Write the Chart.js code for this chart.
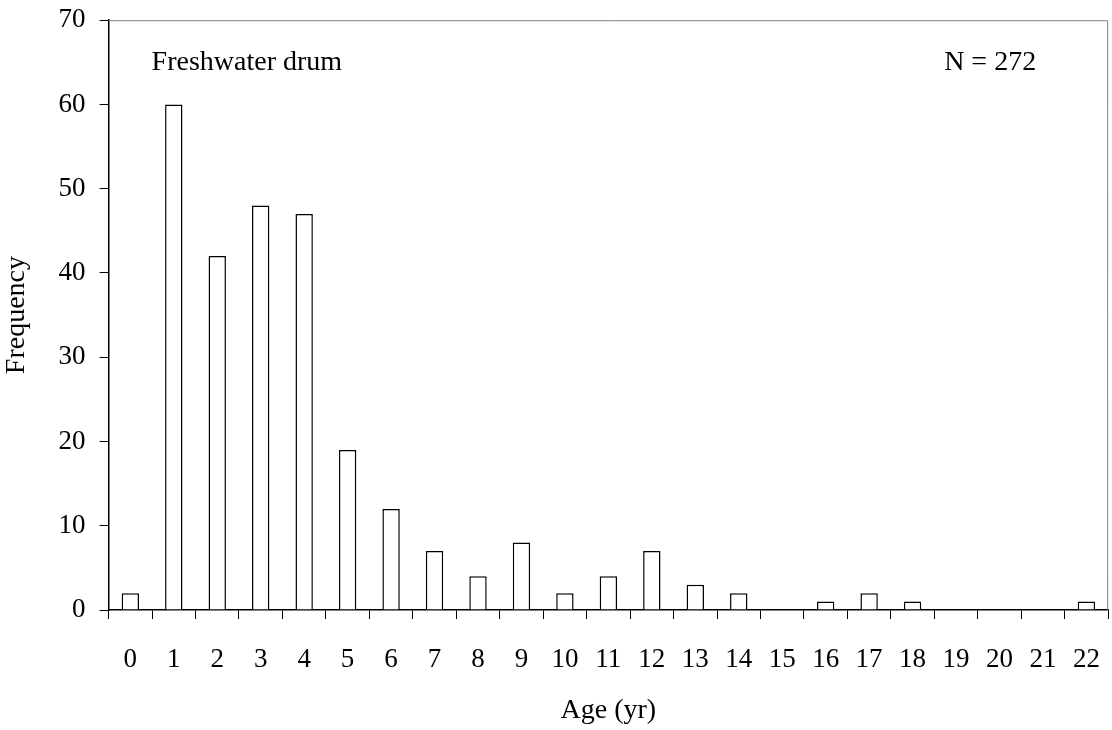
<!DOCTYPE html>
<html>
<head>
<meta charset="utf-8">
<script src="https://cdn.jsdelivr.net/npm/chart.js@4.4.0/dist/chart.umd.min.js"></script>
<style>
  html, body { margin: 0; padding: 0; background: #fff; overflow: hidden; }
  #wrap { position: relative; top: -10px; width: 1125px; height: 740px; }
</style>
</head>
<body>
<div id="wrap"><canvas id="ageChart"></canvas></div>
<script>
const ages = ['0','1','2','3','4','5','6','7','8','9','10','11','12','13','14','15','16','17','18','19','20','21','22'];
const counts = [2, 60, 42, 48, 47, 19, 12, 7, 4, 8, 2, 4, 7, 3, 2, 0, 1, 2, 1, 0, 0, 0, 1];
const speciesLabel = 'Freshwater drum';
const sampleLabel = 'N = 272';

const serif = 'Liberation Serif, Times New Roman, serif';

// gray top/right frame + the two text notes inside the plot
const framePlugin = {
  id: 'frame',
  afterDraw(chart) {
    const c = chart.ctx, a = chart.chartArea;
    c.save();
    c.strokeStyle = '#808080';
    c.lineWidth = 1;
    c.beginPath();
    c.moveTo(a.left, a.top + 0.5);
    c.lineTo(a.right - 0.5, a.top + 0.5);
    c.lineTo(a.right - 0.5, a.bottom);
    c.stroke();
    c.fillStyle = '#000';
    c.font = '28px ' + serif;
    c.textBaseline = 'middle';
    c.textAlign = 'left';
    c.fillText(speciesLabel, a.left + 43, a.top + 42);
    c.fillText(sampleLabel, a.right - 164, a.top + 42);
    c.restore();
  }
};

const ctx = document.getElementById('ageChart').getContext('2d');
const chart = new Chart(ctx, {
  type: 'bar',
  data: {
    labels: ages,
    datasets: [{
      label: 'Frequency',
      data: counts,
      backgroundColor: '#ffffff',
      borderColor: '#000000',
      borderWidth: 1.5,
      categoryPercentage: 1,
      barPercentage: 0.4
    }]
  },
  options: {
    responsive: true,
    maintainAspectRatio: false,
    animation: false,
    layout: { padding: { top: 0, right: 4, left: 0, bottom: 3 } },
    plugins: {
      legend: { display: false },
      tooltip: { enabled: false }
    },
    scales: {
      x: {
        offset: true,
        grid: { offset: true, drawOnChartArea: false, drawTicks: true, tickLength: 9, color: '#000' },
        border: { color: '#000', width: 1.5 },
        ticks: { color: '#000', font: { family: serif, size: 27 }, padding: 25, maxRotation: 0, autoSkip: false },
        title: { display: true, text: 'Age (yr)', color: '#000', font: { family: serif, size: 28 }, padding: { top: -8, bottom: 0 } }
      },
      y: {
        min: 0,
        max: 70,
        ticks: { stepSize: 10, color: '#000', font: { family: serif, size: 27 }, padding: 14 },
        grid: { drawOnChartArea: false, drawTicks: true, tickLength: 9, color: '#000' },
        border: { color: '#000', width: 1.5 },
        title: { display: true, text: 'Frequency', color: '#000', font: { family: serif, size: 28 }, padding: { top: 0, bottom: 11 } }
      }
    }
  },
  plugins: [framePlugin]
});
</script>
</body>
</html>
